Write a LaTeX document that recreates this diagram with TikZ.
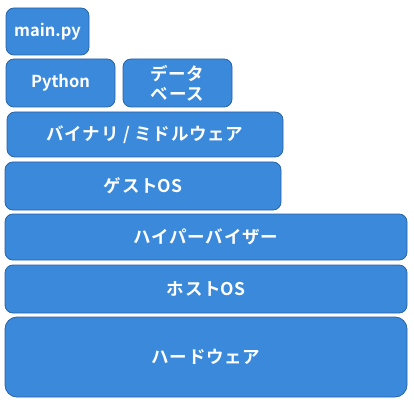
\documentclass[tikz,border=0pt]{standalone}
\usepackage{fontspec}
\setmainfont{Noto Sans CJK JP}[BoldFont=* Bold]
\newfontfamily\kanafont{Noto Sans CJK JP}[BoldFont=* Bold, LetterSpace=4]
\newcommand{\latinpart}[1]{{\rmfamily\bfseries #1}}
\definecolor{layerfill}{RGB}{58,137,218}
\definecolor{layerline}{RGB}{40,100,168}
\begin{document}
\begin{tikzpicture}[x=1pt,y=-1pt,
  layer/.style={draw=layerline, fill=layerfill, line width=0.8pt, rounded corners=8pt,
    text=white, font=\fontsize{16.5}{20}\selectfont\bfseries, inner sep=0pt, align=center},
  kana/.style={layer, font=\fontsize{17.5}{20}\kanafont\bfseries}]
\useasboundingbox (0,0) rectangle (414,403);
\node[layer, minimum width=83pt, minimum height=47pt] (main) at (47.5,31.5) {main.py};
\node[layer, minimum width=109pt, minimum height=48pt] (python) at (60.5,83) {Python};
\node[kana, minimum width=109pt, minimum height=48pt] (db) at (177.5,83) {データ\\ベース};
\node[kana, minimum width=276pt, minimum height=45pt] (bin) at (145,134.5) {バイナリ / ミドルウェア};
\node[kana, minimum width=276pt, minimum height=48pt] (guest) at (143,186) {ゲスト\latinpart{OS}};
\node[kana, minimum width=402pt, minimum height=46pt] (hyper) at (206,237) {ハイパーバイザー};
\node[kana, minimum width=402pt, minimum height=48pt] (host) at (206,289) {ホスト\latinpart{OS}};
\node[kana, minimum width=402pt, minimum height=80pt, rounded corners=12pt] (hw) at (206,357) {ハードウェア};
\end{tikzpicture}
\end{document}
